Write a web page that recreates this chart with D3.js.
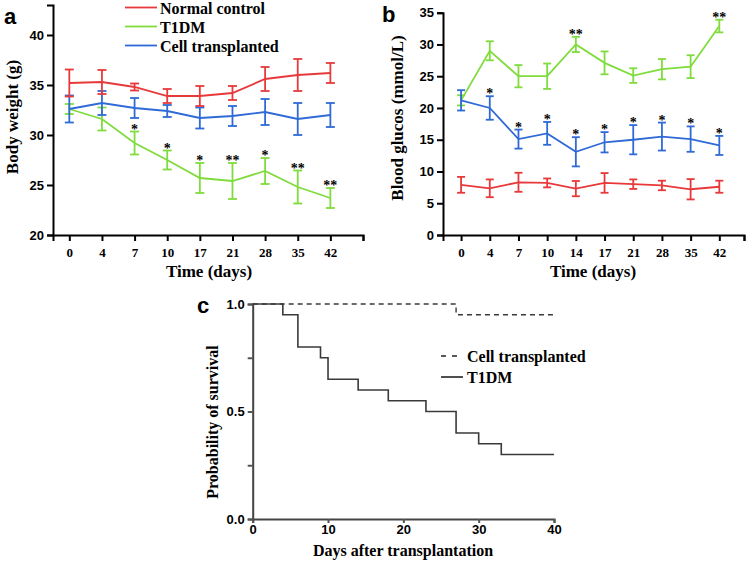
<!DOCTYPE html>
<html><head><meta charset="utf-8">
<script src="https://cdn.jsdelivr.net/npm/d3@7"></script>
<style>body{margin:0;background:#fff}svg{display:block}</style>
</head><body>
<svg id="c" width="750" height="564"></svg>
<script>
// ---------- Data ----------
const daysA = ["0","4","7","10","17","21","28","35","42"];
const weightNormal = [35.2,35.3,34.8,33.9,33.9,34.2,35.6,36.0,36.2];
const weightNormalErr = [1.35,1.2,0.35,0.7,1.0,0.7,1.2,1.6,1.0];
const weightT1DM = [32.6,31.6,29.2,27.5,25.7,25.4,26.4,24.8,23.7];
const weightT1DMErr = [0.5,1.15,1.15,0.95,1.5,1.8,1.3,1.65,1.0];
const weightCell = [32.6,33.2,32.7,32.4,31.7,31.9,32.3,31.6,32.0];
const weightCellErr = [1.35,1.2,1.0,0.6,1.05,1.0,1.3,1.6,1.2];
const weightStars = ["","","*","*","*","**","*","**","**"];

const daysB = ["0","4","7","10","14","17","21","28","35","42"];
const glucNormal = [7.9,7.35,8.3,8.2,7.3,8.2,8.0,7.8,7.2,7.6];
const glucNormalErr = [1.25,1.4,1.5,0.7,1.2,1.55,0.75,0.75,1.6,0.95];
const glucT1DM = [21.2,29.0,25.0,25.0,30.0,27.1,25.1,26.1,26.5,32.9];
const glucT1DMErr = [0.8,1.5,1.75,2.0,1.2,1.8,1.15,1.6,1.8,1.0];
const glucCell = [21.2,20.0,15.1,16.0,13.1,14.6,15.0,15.5,15.1,14.1];
const glucCellErr = [1.6,1.85,1.5,1.8,2.3,1.6,2.3,2.2,2.0,1.5];
const glucStarsCell = ["","*","*","*","*","*","*","*","*","*"];
const glucStarsT1DM = ["","","","","**","","","","","**"];

const seriesNames = ["Normal control","T1DM","Cell transplanted"];
const seriesColors = ["#e8393a","#7fdc3c","#2f6ad6"];

const survCellDays = [0,27,40];
const survCellProb = [1.0,0.95,0.95];
const survT1DMDays = [0,4,6,9,10,14,18,23,27,30,33,40];
const survT1DMProb = [1.0,0.95,0.80,0.75,0.65,0.60,0.55,0.50,0.40,0.35,0.30,0.30];
const survLegend = ["Cell transplanted","T1DM"];

// ---------- Drawing ----------
const svg = d3.select("#c");
const serif = "'Liberation Serif','Times New Roman',serif";
const sans = "'Liberation Sans',Arial,sans-serif";

function styleAxis(g, font, size){
  g.select(".domain").attr("stroke","#000").attr("stroke-width",2);
  g.selectAll(".tick line").attr("stroke","#000").attr("stroke-width",2);
  g.selectAll(".tick text").attr("font-family",font).attr("font-weight","bold")
    .attr("font-size",size).attr("fill","#000");
}

function drawSeries(g, x, y, vals, errs, color, cap){
  const line = d3.line().x((d,i)=>x(i)).y(d=>y(d));
  g.append("path").datum(vals).attr("d",line).attr("fill","none")
    .attr("stroke",color).attr("stroke-width",1.8);
  const eb = g.append("g").attr("stroke",color).attr("stroke-width",1.8);
  vals.forEach((v,i)=>{
    const xi=x(i), yt=y(v+errs[i]), yb=y(v-errs[i]);
    eb.append("line").attr("x1",xi).attr("x2",xi).attr("y1",yt).attr("y2",yb);
    eb.append("line").attr("x1",xi-cap).attr("x2",xi+cap).attr("y1",yt).attr("y2",yt);
    eb.append("line").attr("x1",xi-cap).attr("x2",xi+cap).attr("y1",yb).attr("y2",yb);
  });
}

function drawStars(g, x, y, vals, errs, stars){
  stars.forEach((s,i)=>{
    if(!s) return;
    g.append("text").attr("x",x(i)).attr("y",y(vals[i]+errs[i])+2)
      .attr("text-anchor","middle").attr("font-family",serif).attr("font-weight","bold")
      .attr("font-size",14).attr("fill","#000").text(s);
  });
}

// ----- Panel a -----
{
  const x = d3.scaleLinear().domain([-0.5,9]).range([53,363]);
  const y = d3.scaleLinear().domain([20,43]).range([235,5]);
  const g = svg.append("g");
  const xa = g.append("g").attr("transform","translate(0,235)")
    .call(d3.axisBottom(x).tickValues(d3.range(10)).tickSize(6).tickPadding(7)
      .tickFormat(i=> daysA[i]!==undefined ? daysA[i] : ""));
  styleAxis(xa, serif, 13);
  const ya = g.append("g").attr("transform","translate(53,0)")
    .call(d3.axisLeft(y).tickValues([20,25,30,35,40]).tickSize(6).tickPadding(3));
  styleAxis(ya, sans, 13);
  const d = g.append("g");
  drawSeries(d,x,y,weightT1DM,weightT1DMErr,seriesColors[1],4.5);
  drawSeries(d,x,y,weightCell,weightCellErr,seriesColors[2],4.5);
  drawSeries(d,x,y,weightNormal,weightNormalErr,seriesColors[0],4.5);
  drawStars(d,x,y,weightT1DM,weightT1DMErr,weightStars);
  g.append("text").attr("x",209).attr("y",277).attr("text-anchor","middle")
    .attr("font-family",serif).attr("font-weight","bold").attr("font-size",17).text("Time (days)");
  g.append("text").attr("transform","translate(18,117) rotate(-90)").attr("text-anchor","middle")
    .attr("font-family",serif).attr("font-weight","bold").attr("font-size",17).text("Body weight (g)");
  g.append("text").attr("x",4).attr("y",24).attr("font-family",sans).attr("font-weight","bold")
    .attr("font-size",22).text("a");
  const legY = [8.5,27.5,46.5];
  const order = [0,1,2];
  order.forEach((k,j)=>{
    g.append("line").attr("x1",125).attr("x2",157).attr("y1",legY[j]-1).attr("y2",legY[j]-1)
      .attr("stroke",seriesColors[k]).attr("stroke-width",1.8);
    g.append("text").attr("x",160).attr("y",legY[j]).attr("dy","0.35em")
      .attr("font-family",serif).attr("font-weight","bold").attr("font-size",16).text(seriesNames[k]);
  });
}

// ----- Panel b -----
{
  const x = d3.scaleLinear().domain([-0.63,9.86]).range([443,744]);
  const y = d3.scaleLinear().domain([0,35]).range([235,12.7]);
  const g = svg.append("g");
  const xa = g.append("g").attr("transform","translate(0,235)")
    .call(d3.axisBottom(x).tickValues(d3.range(10).concat([9.86])).tickSize(6).tickPadding(7)
      .tickFormat(i=> daysB[i]!==undefined ? daysB[i] : ""));
  styleAxis(xa, serif, 13);
  const ya = g.append("g").attr("transform","translate(443,0)")
    .call(d3.axisLeft(y).tickValues([0,5,10,15,20,25,30,35]).tickSize(6).tickPadding(3));
  styleAxis(ya, sans, 13);
  const d = g.append("g");
  drawSeries(d,x,y,glucT1DM,glucT1DMErr,seriesColors[1],4);
  drawSeries(d,x,y,glucCell,glucCellErr,seriesColors[2],4);
  drawSeries(d,x,y,glucNormal,glucNormalErr,seriesColors[0],4);
  drawStars(d,x,y,glucCell,glucCellErr,glucStarsCell);
  drawStars(d,x,y,glucT1DM,glucT1DMErr,glucStarsT1DM);
  g.append("text").attr("x",593).attr("y",277).attr("text-anchor","middle")
    .attr("font-family",serif).attr("font-weight","bold").attr("font-size",17).text("Time (days)");
  g.append("text").attr("transform","translate(403,118) rotate(-90)").attr("text-anchor","middle")
    .attr("font-family",serif).attr("font-weight","bold").attr("font-size",17).text("Blood glucos (mmol/L)");
  g.append("text").attr("x",382).attr("y",22).attr("font-family",sans).attr("font-weight","bold")
    .attr("font-size",22).text("b");
}

// ----- Panel c -----
{
  const x = d3.scaleLinear().domain([0,40]).range([252.7,554]);
  const y = d3.scaleLinear().domain([0,1]).range([519,304]);
  const g = svg.append("g");
  const xa = g.append("g").attr("transform","translate(0,519)")
    .call(d3.axisBottom(x).tickValues([0,10,20,30,40]).tickSize(4).tickPadding(2)
      .tickFormat(d3.format("d")));
  styleAxis(xa, sans, 13);
  const ya = g.append("g").attr("transform","translate(252.7,0)")
    .call(d3.axisLeft(y).tickValues([0,0.25,0.5,0.75,1]).tickSize(5).tickPadding(3)
      .tickFormat(v=> (v===0||v===0.5||v===1) ? d3.format(".1f")(v) : ""));
  styleAxis(ya, sans, 13);
  ya.selectAll(".tick line").attr("stroke","#555");
  xa.selectAll(".tick line").attr("stroke","#555");
  ya.select(".domain").attr("stroke","#444");
  xa.select(".domain").attr("stroke","#444");
  const step = d3.line().curve(d3.curveStepAfter).x(d=>x(d[0])).y(d=>y(d[1]));
  g.append("path").datum(survT1DMDays.map((d,i)=>[d,survT1DMProb[i]])).attr("d",step)
    .attr("fill","none").attr("stroke","#3a3a3a").attr("stroke-width",1.6);
  g.append("path").datum(survCellDays.map((d,i)=>[d,survCellProb[i]])).attr("d",step)
    .attr("fill","none").attr("stroke","#3a3a3a").attr("stroke-width",1.4).attr("stroke-dasharray","5,4");
  const ly = [356,377];
  g.append("line").attr("x1",441).attr("x2",463).attr("y1",ly[0]).attr("y2",ly[0])
    .attr("stroke","#222").attr("stroke-width",1.6).attr("stroke-dasharray","5,6");
  g.append("line").attr("x1",441).attr("x2",463).attr("y1",ly[1]).attr("y2",ly[1])
    .attr("stroke","#222").attr("stroke-width",1.6);
  survLegend.forEach((t,j)=>{
    g.append("text").attr("x",467).attr("y",ly[j]).attr("dy","0.35em")
      .attr("font-family",serif).attr("font-weight","bold").attr("font-size",16).text(t);
  });
  g.append("text").attr("x",403).attr("y",556).attr("text-anchor","middle")
    .attr("font-family",serif).attr("font-weight","bold").attr("font-size",16).text("Days after transplantation");
  g.append("text").attr("transform","translate(218,422) rotate(-90)").attr("text-anchor","middle")
    .attr("font-family",serif).attr("font-weight","bold").attr("font-size",16).text("Probability of survival");
  g.append("text").attr("x",197).attr("y",313).attr("font-family",sans).attr("font-weight","bold")
    .attr("font-size",22).text("c");
}
</script>
</body></html>
